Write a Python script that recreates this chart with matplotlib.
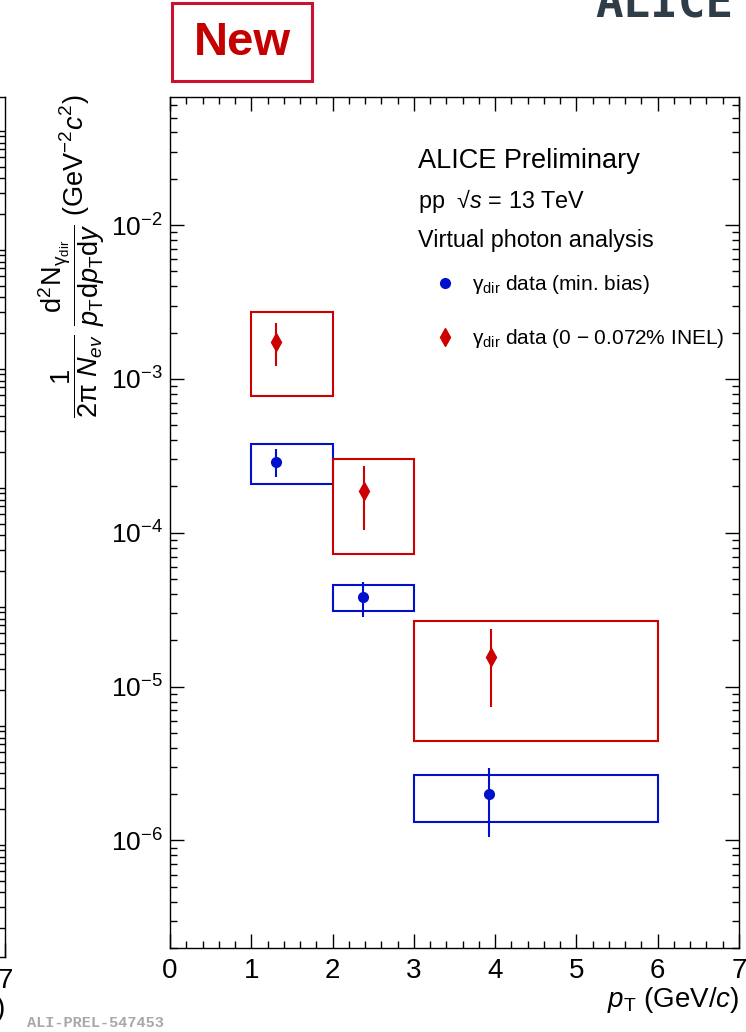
import numpy as np
import matplotlib
matplotlib.use("Agg")
import matplotlib.pyplot as plt
from matplotlib.patches import Rectangle
from matplotlib.lines import Line2D
from matplotlib.ticker import MultipleLocator, LogLocator, NullFormatter

plt.rcParams['font.family'] = ['Liberation Sans', 'DejaVu Sans']
plt.rcParams['mathtext.fontset'] = 'custom'
plt.rcParams['mathtext.rm'] = 'Liberation Sans'
plt.rcParams['mathtext.it'] = 'Liberation Sans:italic'
plt.rcParams['mathtext.bf'] = 'Liberation Sans:bold'
plt.rcParams['axes.linewidth'] = 1.0

# pT bins (GeV/c)
bin_lo = [1, 2, 3]
bin_hi = [2, 3, 6]

# gamma_dir, min. bias
mb_pt = [1.30, 2.38, 3.93]
mb_y = [2.90e-4, 3.84e-5, 1.99e-6]
mb_stat_lo = [2.30e-4, 2.85e-5, 1.05e-6]
mb_stat_hi = [3.51e-4, 4.80e-5, 2.94e-6]
mb_sys_lo = [2.08e-4, 3.12e-5, 1.31e-6]
mb_sys_hi = [3.78e-4, 4.59e-5, 2.67e-6]

# gamma_dir, 0-0.072% INEL (high multiplicity)
hm_pt = [1.31, 2.39, 3.95]
hm_y = [1.75e-3, 1.87e-4, 1.56e-5]
hm_stat_lo = [1.22e-3, 1.035e-4, 7.38e-6]
hm_stat_hi = [2.31e-3, 2.72e-4, 2.37e-5]
hm_sys_lo = [7.8e-4, 7.3e-5, 4.46e-6]
hm_sys_hi = [2.72e-3, 3.03e-4, 2.69e-5]

x_ticks = [0, 1, 2, 3, 4, 5, 6, 7]

blue = '#0010cc'
red = '#cc0000'

W, H = 746, 1032
fig = plt.figure(figsize=(W / 100, H / 100), dpi=100)


def px_axes(l, t, r, b):
    return fig.add_axes([l / W, (H - b) / H, (r - l) / W, (b - t) / H])


# --- piece of the neighbouring panel on the left edge ---
axl = px_axes(-562, 97, 5, 957)
axl.set_yscale('log')
axl.set_ylim(10 ** -8.941, 10 ** -1.714)
axl.set_xlim(0, 7)
axl.set_xticks(x_ticks, ['' for t in x_ticks[:-1]] + [str(x_ticks[-1])])
axl.xaxis.set_minor_locator(MultipleLocator(0.2))
axl.yaxis.set_major_locator(LogLocator(base=10, numticks=100))
axl.yaxis.set_minor_locator(LogLocator(base=10, subs=np.arange(2, 10), numticks=100))
axl.yaxis.set_minor_formatter(NullFormatter())
axl.tick_params(which='both', direction='in', left=False, right=True,
                labelleft=False, labelright=False, top=False)
axl.tick_params(which='major', length=10, width=1.0, labelsize=20, pad=8)
axl.tick_params(which='minor', length=5, width=1.0)
axl.set_xlabel(r'$p_{\mathrm{T}}$ (GeV/$c$)', fontsize=20, loc='right', labelpad=0)

# --- main panel ---
ax = px_axes(170, 97, 739, 948)
ax.set_yscale('log')
ax.set_xlim(0, 7)
ax.set_ylim(2e-7, 0.068)

for lo, hi, slo, shi in zip(bin_lo, bin_hi, mb_sys_lo, mb_sys_hi):
    ax.add_patch(Rectangle((lo, slo), hi - lo, shi - slo, fill=False,
                           ec=blue, lw=1.5, zorder=2))
for lo, hi, slo, shi in zip(bin_lo, bin_hi, hm_sys_lo, hm_sys_hi):
    ax.add_patch(Rectangle((lo, slo), hi - lo, shi - slo, fill=False,
                           ec=red, lw=1.5, zorder=2))

mb_y_a = np.array(mb_y)
hm_y_a = np.array(hm_y)
ax.errorbar(mb_pt, mb_y,
            yerr=[mb_y_a - np.array(mb_stat_lo), np.array(mb_stat_hi) - mb_y_a],
            fmt='o', color=blue, ms=7, elinewidth=1.5, capsize=0, zorder=3)
ax.errorbar(hm_pt, hm_y,
            yerr=[hm_y_a - np.array(hm_stat_lo), np.array(hm_stat_hi) - hm_y_a],
            fmt='d', color=red, ms=9, elinewidth=1.5, capsize=0, zorder=3)

ax.set_xticks(x_ticks)
ax.xaxis.set_minor_locator(MultipleLocator(0.2))
ax.yaxis.set_major_locator(LogLocator(base=10, numticks=100))
ax.yaxis.set_minor_locator(LogLocator(base=10, subs=np.arange(2, 10), numticks=100))
ax.yaxis.set_minor_formatter(NullFormatter())
ax.tick_params(which='both', direction='in', top=True, right=True)
ax.tick_params(which='major', length=10, width=1.0)
ax.tick_params(which='minor', length=5, width=1.0)
ax.tick_params(axis='x', which='major', labelsize=20, pad=7)
ax.tick_params(axis='y', which='major', labelsize=19, pad=5)

ax.set_xlabel(r'$p_{\mathrm{T}}$ (GeV/$c$)', fontsize=20, loc='right', labelpad=1)

fig.text(72 / W, 1 - 94 / H,
         r'$\dfrac{1}{2\mathrm{\pi}\ N_{ev}}\ \dfrac{\mathrm{d}^{2}\mathrm{N}_{\mathrm{\gamma}_{\mathrm{dir}}}}'
         r'{p_{\mathrm{T}}\mathrm{d}p_{\mathrm{T}}\mathrm{d}y}\ (\mathrm{GeV}^{-2}c^{2})$',
         rotation=90, ha='center', va='top', fontsize=19.5)

# text block
ax.text(0.436, 0.9166, 'ALICE Preliminary', transform=ax.transAxes,
        fontsize=19.5, va='baseline')
ax.text(0.436, 0.8696, 'pp  \u221a$s$ = 13 TeV', transform=ax.transAxes,
        fontsize=16.8, va='baseline')
ax.text(0.436, 0.8237, 'Virtual photon analysis', transform=ax.transAxes,
        fontsize=16.8, va='baseline')

handles = [Line2D([], [], ls='none', marker='o', color=blue, ms=7),
           Line2D([], [], ls='none', marker='d', color=red, ms=9)]
labels = ['\u03b3$_{\\mathrm{dir}}$ data (min. bias)',
          '\u03b3$_{\\mathrm{dir}}$ data (0 \u2212 0.072% INEL)']
ax.legend(handles, labels, loc='upper left', bbox_to_anchor=(0.4687, 0.793),
          frameon=False, fontsize=15, handlelength=0.8, handletextpad=0.9,
          labelspacing=1.5, borderpad=0, borderaxespad=0)

# "New" stamp
fig.patches.append(Rectangle((172 / W, (H - 81) / H), 140 / W, 78 / H,
                             transform=fig.transFigure, fill=False,
                             ec='#cc1030', lw=2.2))
fig.text(242 / W, 1 - 43 / H, 'New', ha='center', va='center',
         fontsize=34, fontweight='bold', color='#c40000')

# logo text, cut at the top
fig.text(733 / W, 1 - 18 / H, 'ALICE', ha='right', va='baseline',
         fontsize=33, fontweight='bold', color='#2f3d48', family='DejaVu Sans Mono')

fig.text(27 / W, 1 - 1027 / H, 'ALI-PREL-547453', ha='left', va='baseline',
         fontsize=11, fontweight='bold', color='#a8a8a8', family='Liberation Mono')

fig.savefig('out.png', dpi=100)
